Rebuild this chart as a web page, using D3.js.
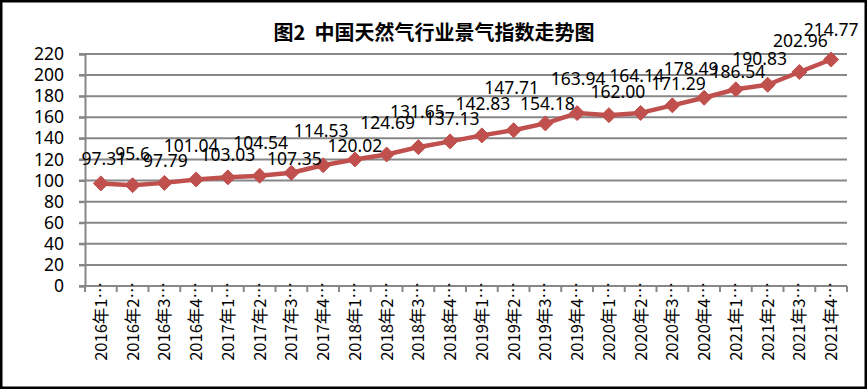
<!DOCTYPE html>
<html>
<head>
<meta charset="utf-8">
<script src="https://cdn.jsdelivr.net/npm/d3@7"></script>
<style>
  body { margin: 0; background: #fff; }
  svg { display: block; }
  .num { font-family: "Noto Sans", "Liberation Sans", sans-serif; font-size: 17.5px; fill: #000; }
</style>
</head>
<body>
<script>
// data
var years = ["2016", "2016", "2016", "2016", "2017", "2017", "2017", "2017",
             "2018", "2018", "2018", "2018", "2019", "2019", "2019", "2019",
             "2020", "2020", "2020", "2020", "2021", "2021", "2021", "2021"];
var quarters = [1, 2, 3, 4, 1, 2, 3, 4, 1, 2, 3, 4, 1, 2, 3, 4, 1, 2, 3, 4, 1, 2, 3, 4];
var values = ["97.31", "95.6", "97.79", "101.04", "103.03", "104.54", "107.35", "114.53",
              "120.02", "124.69", "131.65", "137.13", "142.83", "147.71", "154.18", "163.94",
              "162.00", "164.14", "171.29", "178.49", "186.54", "190.83", "202.96", "214.77"];
var yTicks = [0, 20, 40, 60, 80, 100, 120, 140, 160, 180, 200, 220];
var title = "图2  中国天然气行业景气指数走势图";

var categories = years.map(function(y, i) { return y + "年" + quarters[i] + "季度"; });

// label nudges (dx, dy of baseline from the point), as placed in the original
var nudge = [[3,-18],[0,-25],[1,-16],[-5,-27],[0,-16],[1,-27],[3,-8],[-2,-28],
             [0,-7],[1,-26],[-1,-29],[2,-16],[1,-25],[-2,-36],[2,-13],[1,-28],
             [9,-17],[-4,-31],[6,-15],[-13,-23],[2,-11],[-8,-20],[1,-25],[0,-24]];

var width = 867, height = 389;
var red = "#C0504D", grid = "#878787";

var svg = d3.select("body").append("svg")
  .attr("width", width)
  .attr("height", height);

svg.append("rect")
  .attr("width", width).attr("height", height)
  .attr("fill", "#fff");

var x = d3.scaleBand()
  .domain(categories)
  .range([85, 847]);

var y = d3.scaleLinear()
  .domain([0, 220])
  .range([286, 54]);

// gridlines + y ticks
svg.append("g")
  .selectAll("line")
  .data(yTicks)
  .enter().append("line")
  .attr("x1", 79)
  .attr("x2", 847)
  .attr("y1", function(d) { return y(d); })
  .attr("y2", function(d) { return y(d); })
  .attr("stroke", grid)
  .attr("stroke-width", 2);

// y axis
var yAxis = svg.append("g")
  .attr("transform", "translate(85,0)")
  .call(d3.axisLeft(y).tickValues(yTicks).tickSize(6).tickPadding(15));
yAxis.select(".domain").attr("stroke", grid).attr("stroke-width", 2);
yAxis.selectAll(".tick line").attr("stroke", grid).attr("stroke-width", 2);
yAxis.selectAll("text")
  .attr("class", "num")
  .attr("fill", "#000")
  .style("font-size", "17.5px");

// x axis with boundary ticks
var xAxis = svg.append("g")
  .attr("transform", "translate(0,286)");
xAxis.append("line")
  .attr("x1", 85).attr("x2", 847)
  .attr("stroke", grid).attr("stroke-width", 2);
xAxis.selectAll(".bt")
  .data(d3.range(categories.length + 1))
  .enter().append("line")
  .attr("x1", function(i) { return x.range()[0] + i * x.step(); })
  .attr("x2", function(i) { return x.range()[0] + i * x.step(); })
  .attr("y1", 0)
  .attr("y2", 6)
  .attr("stroke", grid)
  .attr("stroke-width", 2);

xAxis.selectAll(".lab")
  .data(categories)
  .enter().append("text")
  .attr("transform", function(d) {
    return "translate(" + (x(d) + x.bandwidth() / 2 + 6) + ",-4) rotate(-90)";
  })
  .attr("text-anchor", "end")
  .style("font-family", "'Noto Sans CJK SC', sans-serif")
  .style("font-size", "16.5px")
  .attr("fill", "#000")
  .text(function(d) { return d.slice(0, 6) + "…"; });

// line
var cx = function(d, i) { return x(categories[i]) + x.bandwidth() / 2; };
var line = d3.line()
  .x(cx)
  .y(function(d) { return y(+d); });

svg.append("path")
  .datum(values)
  .attr("d", line)
  .attr("fill", "none")
  .attr("stroke", red)
  .attr("stroke-width", 4.5)
  .attr("stroke-linejoin", "round");

// diamond markers
svg.append("g")
  .selectAll("path")
  .data(values)
  .enter().append("path")
  .attr("d", "M0,-7.5L7.5,0L0,7.5L-7.5,0Z")
  .attr("transform", function(d, i) { return "translate(" + cx(d, i) + "," + y(+d) + ")"; })
  .attr("fill", red)
  .attr("stroke", red)
  .attr("stroke-width", 1);

// value labels
svg.append("g")
  .selectAll("text")
  .data(values)
  .enter().append("text")
  .attr("class", "num")
  .attr("text-anchor", "middle")
  .attr("x", function(d, i) { return cx(d, i) + nudge[i][0]; })
  .attr("y", function(d, i) { return y(+d) + nudge[i][1]; })
  .text(function(d) { return d; });

// title
svg.append("text")
  .attr("x", 434)
  .attr("y", 40)
  .attr("text-anchor", "middle")
  .style("font-family", "'Noto Sans CJK SC', sans-serif")
  .style("font-weight", "bold")
  .style("font-size", "20px")
  .attr("fill", "#000")
  .style("white-space", "pre")
  .text(title);

// outer border
svg.append("rect")
  .attr("x", 1.25).attr("y", 1.25)
  .attr("width", width - 2.5).attr("height", height - 2.5)
  .attr("fill", "none")
  .attr("stroke", "#000")
  .attr("stroke-width", 2.5);
</script>
</body>
</html>
